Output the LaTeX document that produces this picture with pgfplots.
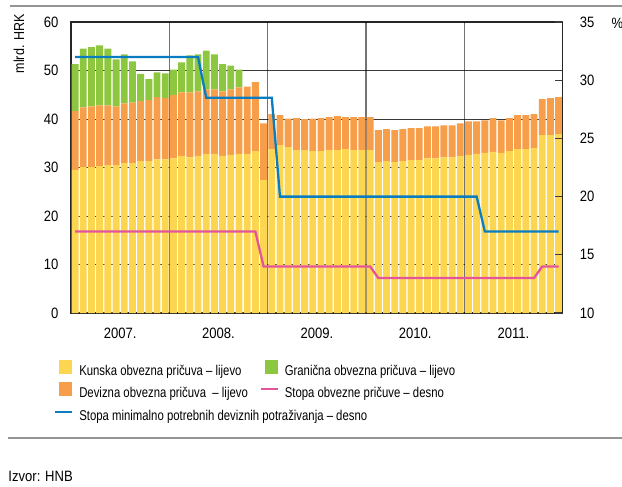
\documentclass[border=0pt]{standalone}
\usepackage{fontspec}
\setmainfont{Liberation Sans}[FakeStretch=0.87]
\newfontfamily\legfont{Liberation Sans}[FakeStretch=0.8]
\usepackage{pgfplots}
\usepackage{pgfplotstable}
\pgfplotsset{compat=1.18}
\definecolor{kyellow}{HTML}{FDD651}
\definecolor{korange}{HTML}{F79E4A}
\definecolor{kgreen}{HTML}{8DC63F}
\definecolor{kblue}{HTML}{0A7DC1}
\definecolor{kpink}{HTML}{E3559B}
\definecolor{kgrid}{HTML}{3A3A3A}
\pgfplotsset{
  legsq/.style={legend image code/.code={\path[draw=none,fill=none] (0bp,0bp) -- (24bp,0bp); \fill[##1] (4bp,-2.9bp) rectangle (17bp,11.1bp);}},
  legln/.style={legend image code/.code={\path[draw=none,fill=none] (0bp,-2.9bp) rectangle (24bp,11.1bp); \draw[##1,line width=2bp] (0bp,4.1bp) -- (17bp,4.1bp);}},
}
\pgfplotstableread{
x kun dev gra
0 29.5 12.1 9.7
1 30.1 12.3 12.1
2 30.1 12.5 12.2
3 30.3 12.5 12.4
4 30.5 12.3 11.7
5 30.5 12.1 9.7
6 30.9 12.3 10.1
7 30.9 12.5 8.5
8 31.3 12.4 5.6
9 31.3 12.6 4.3
10 31.7 12.8 5.1
11 31.7 12.6 5.1
12 31.9 13.0 5.3
13 32.4 13.1 6.2
14 32.1 13.4 7.6
15 32.4 13.3 7.6
16 32.8 13.3 8.0
17 32.8 13.3 7.2
18 32.4 13.3 5.6
19 32.6 13.5 4.9
20 32.8 13.7 3.7
21 32.8 13.9 0
22 33.4 14.2 0
23 27.4 11.7 0
24 33.8 7.2 0
25 34.6 6.2 0
26 34.2 5.9 0
27 33.6 6.6 0
28 33.6 6.4 0
29 33.4 6.7 0
30 33.4 6.8 0
31 33.6 6.8 0
32 33.6 7.0 0
33 33.8 6.6 0
34 33.6 6.8 0
35 33.6 6.8 0
36 33.6 6.8 0
37 31.1 6.6 0
38 31.3 6.6 0
39 31.1 6.6 0
40 31.3 6.6 0
41 31.5 6.6 0
42 31.5 6.6 0
43 31.9 6.6 0
44 31.9 6.6 0
45 32.1 6.6 0
46 32.1 6.6 0
47 32.4 6.7 0
48 32.6 6.9 0
49 32.8 6.7 0
50 33.0 6.7 0
51 33.2 7.0 0
52 33.0 6.7 0
53 33.4 6.8 0
54 33.8 7.0 0
55 33.8 7.0 0
56 34.0 7.0 0
57 36.7 7.4 0
58 36.7 7.6 0
59 36.9 7.6 0
}\reserves
\pgfplotstableread{
x r
0 17
22 17
23 14
36 14
37 13
56 13
57 14
59 14
}\pinkrate
\pgfplotstableread{
x r
0 32
15 32
16 28.5
24 28.5
25 20
49 20
50 17
59 17
}\bluerate
\begin{document}
\begin{tikzpicture}
\path[use as bounding box] (0,0) rectangle (622bp,-487bp);
\draw[color=black!42, line width=1.5bp] (10bp,-6bp) -- (622bp,-6bp);
\draw[color=black!42, line width=2bp] (8bp,-437.7bp) -- (622bp,-437.7bp);
\node[anchor=base west, inner sep=0pt, font=\fontsize{15bp}{17bp}\selectfont] at (8.3bp,-481.7bp) {Izvor: HNB};
\begin{axis}[
  at={(71bp,-313bp)}, anchor=south west,
  scale only axis, width=491.7bp, height=291bp,
  xmin=-0.5, xmax=59.5, ymin=0, ymax=60,
  ybar stacked, bar width=0.84,
  xtick={5.5,17.5,29.5,41.5,53.5},
  xticklabels={2007.,2008.,2009.,2010.,2011.},
  ytick={0,10,...,60},
  ytick pos=left, xtick pos=bottom,
  major tick length=0pt,
  ymajorgrids, major grid style={color=kgrid, line width=0.8bp},
  axis line style={color=black!85, line width=1.2bp},
  tick label style={font=\fontsize{15bp}{17bp}\selectfont, inner sep=0pt},
  yticklabel style={anchor=east, xshift=-12.5bp},
  xticklabel style={anchor=base, yshift=-25.3bp},
  /pgf/number format/assume math mode=true,
]
\addplot[fill=kyellow, draw=none] table[x=x, y=kun]{\reserves};
\addplot[fill=korange, draw=none] table[x=x, y=dev]{\reserves};
\addplot[fill=kgreen, draw=none] table[x=x, y=gra]{\reserves};
\draw[black, opacity=0.55, line width=1.3bp] (axis cs:11.5,0) -- (axis cs:11.5,60);
\draw[black, opacity=0.55, line width=1.3bp] (axis cs:23.5,0) -- (axis cs:23.5,60);
\draw[black, opacity=0.55, line width=1.3bp] (axis cs:35.5,0) -- (axis cs:35.5,60);
\draw[black, opacity=0.55, line width=1.3bp] (axis cs:47.5,0) -- (axis cs:47.5,60);
\end{axis}
\begin{axis}[
  at={(71bp,-313bp)}, anchor=south west,
  scale only axis, width=491.7bp, height=291bp,
  xmin=-0.5, xmax=59.5, ymin=10, ymax=35,
  axis x line=none, axis y line*=right,
  ytick={10,15,...,35}, ytick pos=right,
  tick align=inside, major tick length=7.7bp,
  tick style={color=kgrid, line width=1.3bp},
  axis line style={color=black!85, line width=1.2bp},
  yticklabel style={font=\fontsize{15bp}{17bp}\selectfont, anchor=west, inner sep=0pt, xshift=17bp},
  /pgf/number format/assume math mode=true,
  legend columns=2,
  legend cell align=left,
  legend style={at={(-0.034,-0.1605)}, anchor=north west, draw=none, fill=none,
    inner sep=0pt, outer sep=0pt, row sep=5.6bp, column sep=0pt,
    font=\legfont\fontsize{14.2bp}{16bp}\selectfont, nodes={inner sep=0pt}},
]
\addlegendimage{legsq, fill=kyellow, draw=none}
\addlegendentry{\makebox[180.5bp][l]{Kunska obvezna pričuva – lijevo}}
\addlegendimage{legsq, fill=kgreen, draw=none}
\addlegendentry{Granična obvezna pričuva – lijevo}
\addlegendimage{legsq, fill=korange, draw=none}
\addlegendentry{\makebox[180.5bp][l]{Devizna obvezna pričuva\ \ – lijevo}}
\addplot[kpink, line width=2.3bp, no markers, legln] table[x=x, y=r]{\pinkrate};
\addlegendentry{Stopa obvezne pričuve – desno}
\addplot[kblue, line width=2.3bp, no markers, legln] table[x=x, y=r]{\bluerate};
\addlegendentry{\makebox[180.5bp][l]{Stopa minimalno potrebnih deviznih potraživanja – desno}}
\end{axis}
\node[rotate=90, inner sep=0pt, font=\fontsize{14.4bp}{16bp}\selectfont] at (19bp,-43.8bp) {mlrd. HRK};
\node[anchor=west, inner sep=0pt, font=\fontsize{15bp}{17bp}\selectfont] at (611.5bp,-23.5bp) {\%};
\end{tikzpicture}
\end{document}
